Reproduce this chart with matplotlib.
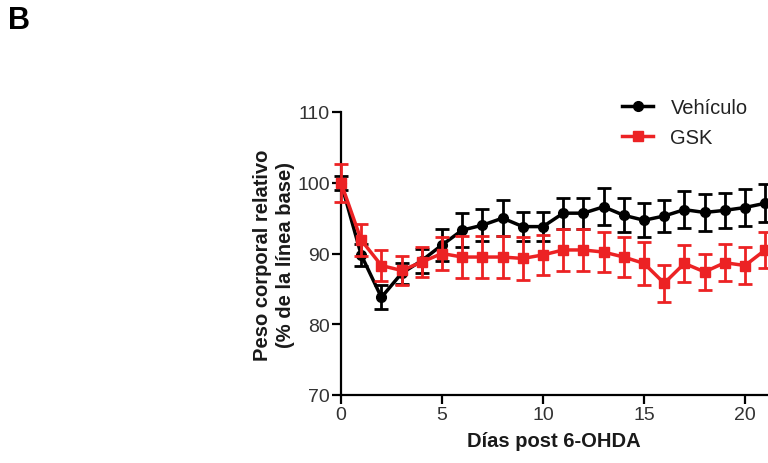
import matplotlib
matplotlib.use("Agg")
import matplotlib.pyplot as plt
from matplotlib.lines import Line2D

plt.rcParams['font.family'] = ['Liberation Sans', 'DejaVu Sans']

days = list(range(22))
veh = [100.0, 89.8, 83.8, 87.2, 89.0, 91.2, 93.3, 94.0, 95.0, 93.8, 93.8, 95.7,
       95.7, 96.6, 95.4, 94.7, 95.3, 96.2, 95.8, 96.1, 96.5, 97.1]
veh_err = [1.0, 1.5, 1.7, 1.5, 1.7, 2.2, 2.4, 2.3, 2.5, 2.0, 2.0, 2.2,
           2.2, 2.6, 2.4, 2.4, 2.3, 2.6, 2.6, 2.5, 2.6, 2.7]
gsk = [100.0, 91.9, 88.3, 87.6, 88.8, 90.0, 89.5, 89.5, 89.5, 89.3, 89.8, 90.5,
       90.5, 90.2, 89.5, 88.6, 85.8, 88.6, 87.4, 88.7, 88.3, 90.5]
gsk_err = [2.7, 2.2, 2.2, 2.1, 2.1, 2.4, 3.0, 3.0, 3.0, 3.0, 2.8, 3.0,
           3.0, 2.8, 2.8, 3.0, 2.6, 2.6, 2.6, 2.6, 2.6, 2.6]
labels = ['Vehículo', 'GSK']
xticks = [0, 5, 10, 15, 20]
yticks = [70, 80, 90, 100, 110]

RED = '#ec2224'
fig = plt.figure(figsize=(7.68, 4.64), dpi=100)
W, H = 768, 464
x0, y0 = 341, 396
pxu = 20.2
xmax = 25
ax = fig.add_axes([x0 / W, (H - y0) / H, xmax * pxu / W, 283 / H])
ax.set_xlim(0, xmax)
ax.set_ylim(70, 110)

ax.errorbar(days, veh, yerr=veh_err, color='black', marker='o', ms=7, lw=2.5,
            elinewidth=2, capsize=5, capthick=2, zorder=3, clip_on=False)
ax.errorbar(days, gsk, yerr=gsk_err, color=RED, marker='s', ms=7, lw=2.5,
            elinewidth=2, capsize=5, capthick=2, zorder=4, clip_on=False)

for s in ['top', 'right']:
    ax.spines[s].set_visible(False)
for s in ['left', 'bottom']:
    ax.spines[s].set_linewidth(1.6)
ax.set_xticks(xticks)
ax.set_yticks(yticks)
ax.tick_params(width=1.6, length=6.5, labelsize=14, direction='out', colors='black',
               labelcolor='#333333', pad=1.5)

fig.text(554 / W, 1 - 442 / H, 'Días post 6-OHDA', ha='center', va='center',
         fontsize=14.5, fontweight='bold', color='#1a1a1a')
fig.text(274 / W, 1 - 255 / H, 'Peso corporal relativo\n(% de la línea base)',
         ha='center', va='center', rotation=90, fontsize=14.5, fontweight='bold',
         linespacing=1.25, color='#1a1a1a')
fig.text(8 / W, 1 - 21 / H, 'B', ha='left', va='center', fontsize=22, fontweight='bold')

handles = [Line2D([], [], color='black', marker='o', ms=7, lw=2.5),
           Line2D([], [], color=RED, marker='s', ms=7, lw=2.5)]
fig.legend(handles, labels, loc='upper left', bbox_to_anchor=(604 / W, 1 - 81 / H),
           frameon=False, fontsize=14.5, handlelength=1.55, labelspacing=0.55,
           handletextpad=0.85, labelcolor='#222222')

fig.savefig('out.png', dpi=100)
